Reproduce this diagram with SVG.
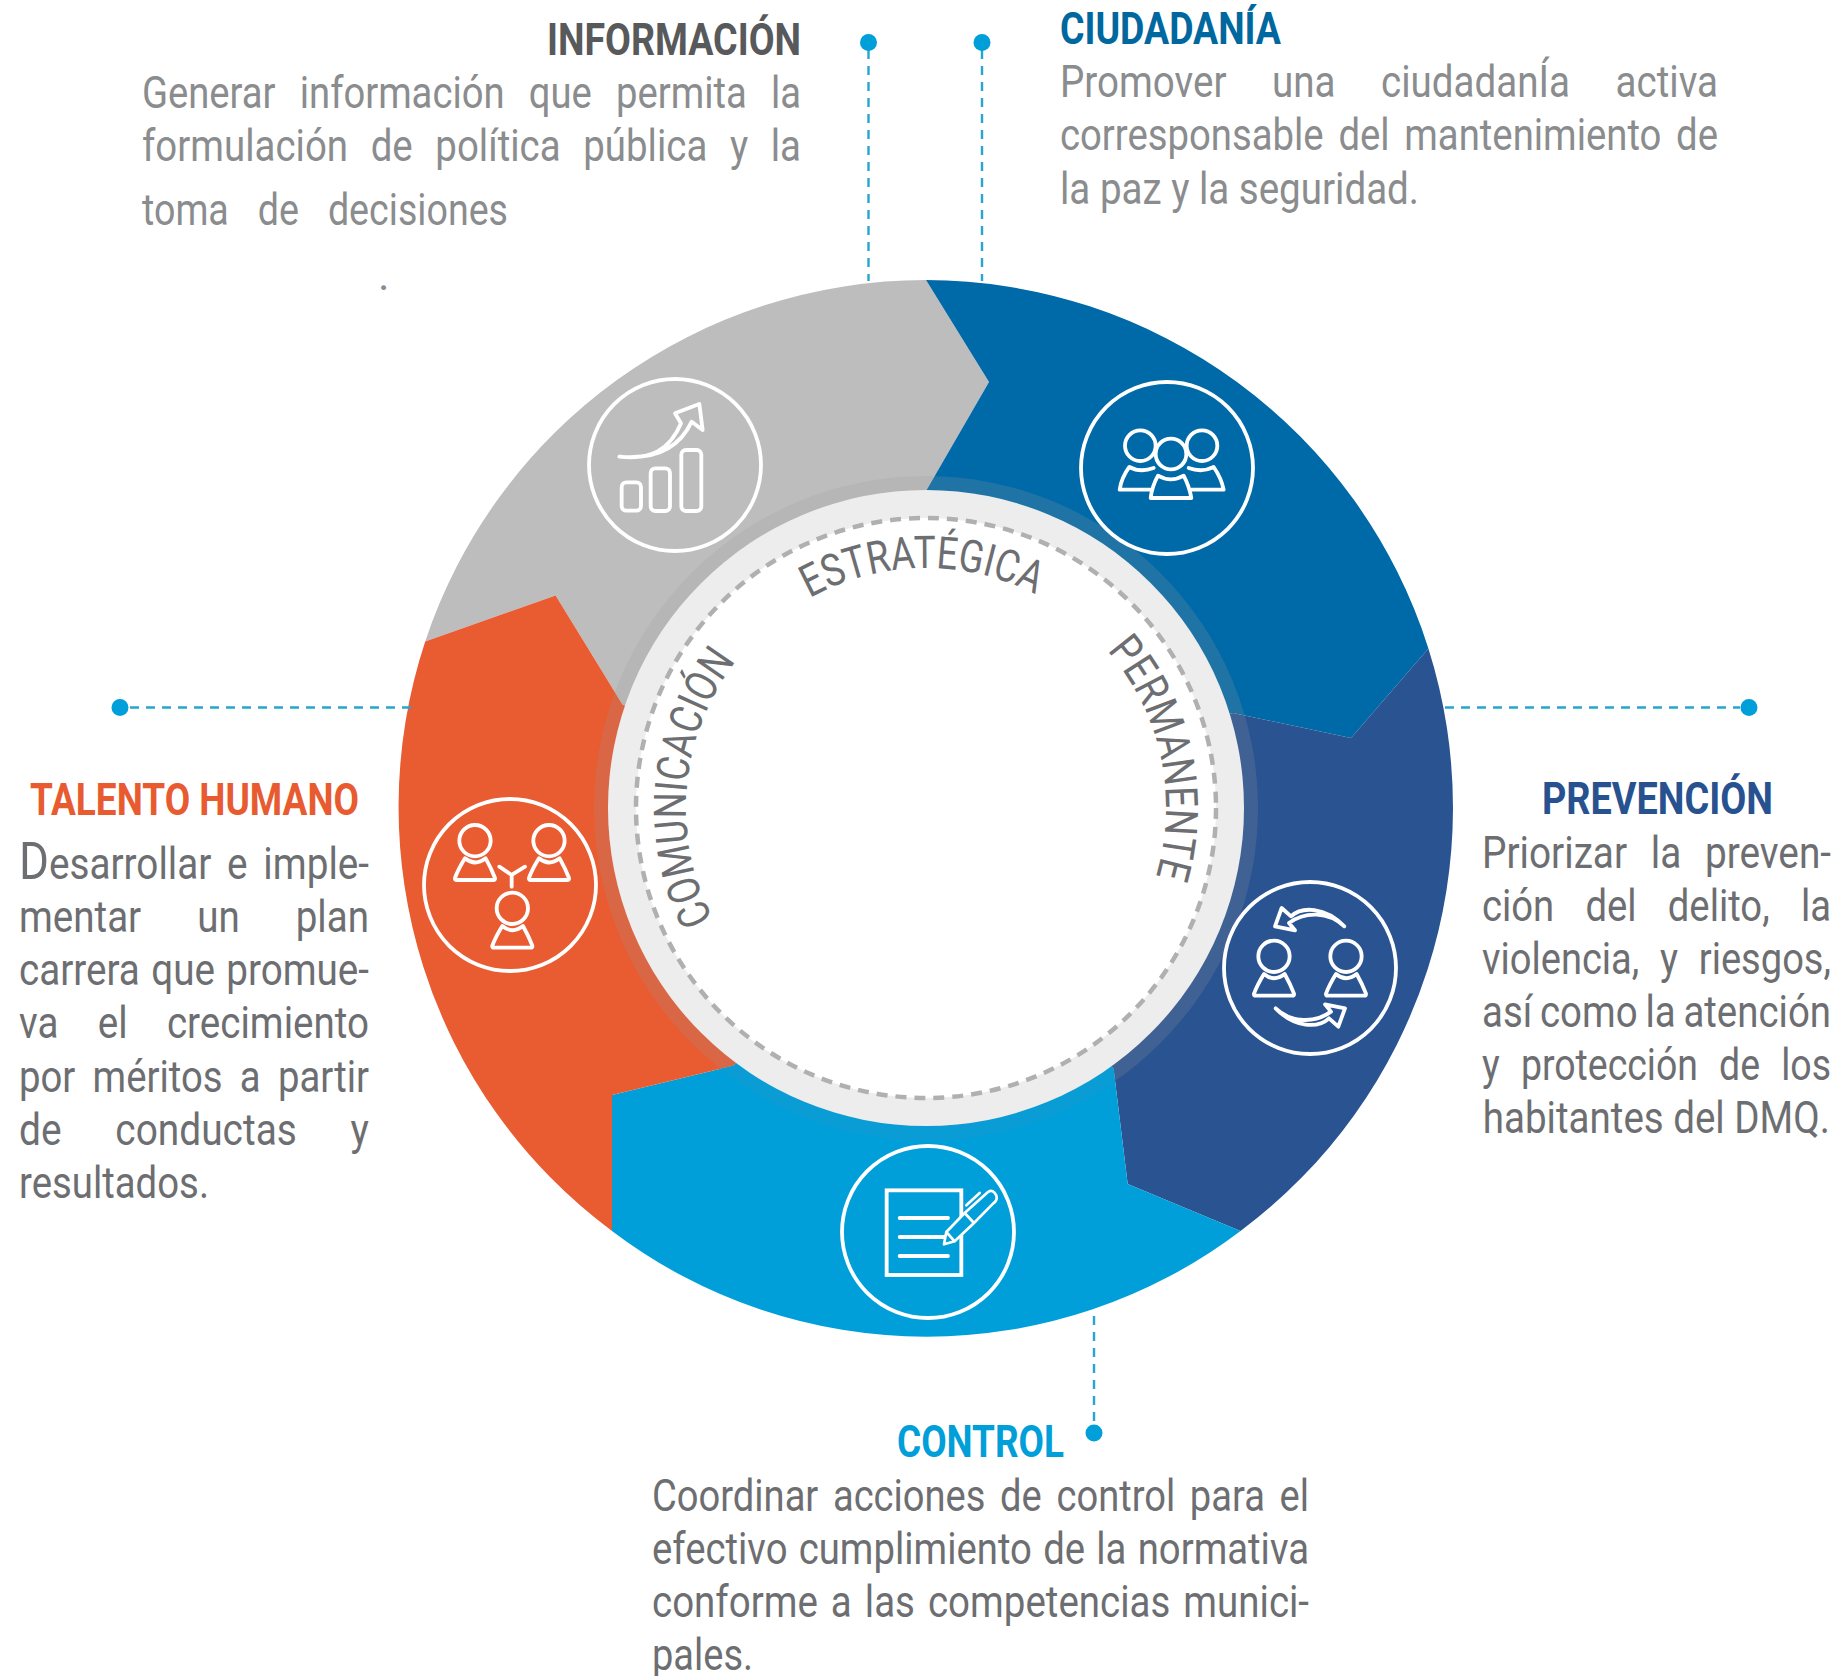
<svg xmlns="http://www.w3.org/2000/svg" width="1842" height="1676" viewBox="0 0 1842 1676">
<style>
text{font-family:"Roboto","Liberation Sans",sans-serif}
.h{font-size:44px;font-weight:700}
.b{font-size:44px;fill:#6d6e71}
.g{fill:#8a8c8e}
.arc{font-size:45px;fill:#6d6e71}
.ring{fill:none;stroke:#fff;stroke-width:3.8}
.ic{fill:none;stroke:#fff;stroke-width:11.5;stroke-linejoin:round;stroke-linecap:round}
.dash{fill:none;stroke:#25a5cf;stroke-width:2.4;stroke-dasharray:9 7}
.dot{fill:#009fd9}
</style>
<defs>
<path id="a1" d="M809.6 598.1A240 240 0 0 1 1035 594.2"/>
<path id="a2" d="M713.1 918.8A240 240 0 0 1 736.9 660.2"/>
<path id="a3" d="M1107.1 650.5A240 240 0 0 1 1156.7 874.1"/>
<g id="p"><circle r="47"/><path d="M-30 53Q-50 85-60 112Q-61 118-55 118H55Q61 118 60 112Q50 85 32 53Q0 78-30 53Z"/></g>
<path id="rot" d="M388 160C330 100 260 100 228 130L200 105L180 160L240 172L222 150C270 115 340 115 388 160Z"/>
<clipPath id="halo"><circle cx="926" cy="808" r="332"/></clipPath>
</defs>
<rect width="1842" height="1676" fill="#fff"/>
<g id="wheel">
<path fill="#bdbdbd" d="M425.2 641.4A528 528 0 0 1 926 280L989 382L926 491L926 808L622.6 704.8L555.6 595.6Z"/>
<path fill="#0069a8" d="M926 280A528 528 0 0 1 1428.4 648.4L1351 738L1233 713L926 808L926 491L989 382Z"/>
<path fill="#2a5391" d="M1428.4 648.4A528 528 0 0 1 1240.5 1231L1127.7 1184L1113.6 1069L926 808L1233 713L1351 738Z"/>
<path fill="#009fd9" d="M1240.5 1231A520 520 0 0 1 612 1231L612 1095L734 1065.5L926 808L1113.6 1069L1127.7 1184Z"/>
<path fill="#e95b30" d="M612 1231A528 528 0 0 1 425.2 641.4L555.6 595.6L622.6 704.8L926 808L734 1065.5L612 1095Z"/>
<circle cx="926" cy="808" r="332" fill="#999" opacity=".2"/>
<path fill="#0a9cd4" clip-path="url(#halo)" d="M612 1095L734 1065.5L926 808L1113.6 1069L1127.7 1184L926 1250Z"/>
<circle cx="926" cy="808" r="318" fill="#ededed"/>
<circle cx="926" cy="808" r="290" fill="#fff" stroke="#b0b0b0" stroke-width="4.5" stroke-dasharray="11 8"/>
<text class="arc"><textPath href="#a1" textLength="235" lengthAdjust="spacingAndGlyphs">ESTRATÉGICA</textPath></text>
<text class="arc"><textPath href="#a2" textLength="273" lengthAdjust="spacingAndGlyphs">COMUNICACIÓN</textPath></text>
<text class="arc"><textPath href="#a3" textLength="241" lengthAdjust="spacingAndGlyphs">PERMANENTE</textPath></text>
</g>
<g id="connectors">
<path class="dash" d="M868.5 50V281M982 50V281M130 707.500H412M1445 707.500H1740M1094 1316V1425"/>
</g>
<g id="dots">
<circle class="dot" cx="868.500" cy="42.500" r="8.500"/><circle class="dot" cx="982" cy="42.500" r="8.500"/><circle class="dot" cx="120" cy="707.500" r="8.500"/><circle class="dot" cx="1749" cy="707.500" r="8.500"/><circle class="dot" cx="1094" cy="1433" r="8.500"/>
</g>
<g id="informacion">
<circle class="ring" cx="675" cy="465" r="86"/>
<g class="ic" transform="translate(580 370) scale(.3333)">
<rect x="125" y="337" width="58" height="85" rx="14"/><rect x="212" y="295" width="58" height="128" rx="14"/><rect x="304" y="240" width="60" height="183" rx="14"/>
<path d="M118 260C210 272 270 240 303 160L285 130L358 102L368 180L335 155C300 230 230 270 118 260Z"/>
</g>
<text class="h" fill="#58595b" x="547" y="55" textLength="254" lengthAdjust="spacingAndGlyphs">INFORMACIÓN</text>
<text class="b g" x="142" y="108" textLength="659" lengthAdjust="spacingAndGlyphs" word-spacing="17">Generar información que permita la</text>
<text class="b g" x="142" y="161" textLength="659" lengthAdjust="spacingAndGlyphs" word-spacing="15">formulación de política pública y la</text>
<text class="b g" x="142" y="225" textLength="366" lengthAdjust="spacingAndGlyphs" word-spacing="23">toma de decisiones</text>
<text class="b g" x="378" y="290">.</text>
</g>
<g id="ciudadania">
<circle class="ring" cx="1167" cy="468" r="86"/>
<g class="ic" transform="translate(1072 373) scale(.3333)">
<circle cx="205" cy="218" r="46"/><circle cx="390" cy="218" r="46"/><circle cx="297" cy="243" r="46"/>
<path d="M258 308Q240 340 236 375H358Q352 340 335 308Q297 330 258 308Z"/>
<path d="M240 350H143Q148 315 172 282Q205 300 245 285M358 350H455Q448 315 425 282Q390 300 350 285"/>
</g>
<text class="h" fill="#00679f" x="1060" y="44" textLength="221" lengthAdjust="spacingAndGlyphs">CIUDADANÍA</text>
<text class="b g" x="1060" y="97" textLength="658" lengthAdjust="spacingAndGlyphs" word-spacing="41">Promover una ciudadanÍa activa</text>
<text class="b g" x="1060" y="150" textLength="658" lengthAdjust="spacingAndGlyphs" word-spacing="6">corresponsable del mantenimiento de</text>
<text class="b g" x="1060" y="204" textLength="359" lengthAdjust="spacingAndGlyphs" word-spacing="0">la paz y la seguridad.</text>
</g>
<g id="prevencion">
<circle class="ring" cx="1310" cy="968" r="86"/>
<g class="ic" transform="translate(1215 873) scale(.3333)">
<use href="#p" x="177" y="250"/><use href="#p" x="393" y="250"/>
<use href="#rot"/><use href="#rot" transform="rotate(180 285 283)"/>
</g>
<text class="h" fill="#28528f" x="1542" y="814" textLength="231" lengthAdjust="spacingAndGlyphs">PREVENCIÓN</text>
<g transform="translate(1482 0) scale(.85 1)">
<text class="b" x="0" y="868" textLength="410.600" lengthAdjust="spacingAndGlyphs" word-spacing="16">Priorizar la preven-</text>
<text class="b" x="0" y="921" textLength="410.600" lengthAdjust="spacingAndGlyphs" word-spacing="25">ción del delito, la</text>
<text class="b" x="0" y="974" textLength="410.600" lengthAdjust="spacingAndGlyphs" word-spacing="13">violencia, y riesgos,</text>
<text class="b" x="0" y="1027" textLength="410.600" lengthAdjust="spacingAndGlyphs" word-spacing="-2">así como la atención</text>
<text class="b" x="0" y="1080" textLength="410.600" lengthAdjust="spacingAndGlyphs" word-spacing="14">y protección de los</text>
<text class="b" x="1" y="1133.500" textLength="408.200" lengthAdjust="spacingAndGlyphs" word-spacing="0">habitantes del DMQ.</text>
</g>
</g>
<g id="control">
<circle class="ring" cx="928" cy="1232" r="86"/>
<g class="ic" transform="translate(833 1137) scale(.3333)">
<rect x="161" y="160" width="224" height="254" stroke-linejoin="miter"/>
<path d="M200 243H345M200 300H335M200 357H345"/>
<path fill="#009fd9" stroke-width="8" d="M333 322L340 285L395 228L465 165Q480 155 490 175Q495 190 480 200L423 258L365 313ZM395 228L423 258M340 285L365 313M400 205L440 168"/>
</g>
<text class="h" fill="#009fd9" x="897" y="1457" textLength="167" lengthAdjust="spacingAndGlyphs">CONTROL</text>
<text class="b" x="652" y="1511" textLength="657" lengthAdjust="spacingAndGlyphs" word-spacing="6">Coordinar acciones de control para el</text>
<text class="b" x="652" y="1564" textLength="657" lengthAdjust="spacingAndGlyphs" word-spacing="2">efectivo cumplimiento de la normativa</text>
<text class="b" x="652" y="1617" textLength="657" lengthAdjust="spacingAndGlyphs" word-spacing="4">conforme a las competencias munici-</text>
<text class="b" x="652" y="1670" textLength="101" lengthAdjust="spacingAndGlyphs">pales.</text>
</g>
<g id="talento">
<circle class="ring" cx="510" cy="885" r="86"/>
<g class="ic" transform="translate(415 790) scale(.3333)">
<use href="#p" x="180" y="152"/><use href="#p" x="402" y="152"/><use href="#p" x="292" y="355"/>
<path d="M253 230L290 255L330 230M290 255V290"/>
</g>
<text class="h" fill="#e85b30" x="30" y="815" textLength="329" lengthAdjust="spacingAndGlyphs">TALENTO HUMANO</text>
<text class="b" x="19" y="879" textLength="350" lengthAdjust="spacingAndGlyphs" word-spacing="7"><tspan font-size="52">D</tspan>esarrollar e imple-</text>
<text class="b" x="19" y="932" textLength="350" lengthAdjust="spacingAndGlyphs" word-spacing="53">mentar un plan</text>
<text class="b" x="19" y="985" textLength="350" lengthAdjust="spacingAndGlyphs" word-spacing="2">carrera que promue-</text>
<text class="b" x="19" y="1038" textLength="350" lengthAdjust="spacingAndGlyphs" word-spacing="34">va el crecimiento</text>
<text class="b" x="19" y="1092" textLength="350" lengthAdjust="spacingAndGlyphs" word-spacing="9">por méritos a partir</text>
<text class="b" x="19" y="1145" textLength="350" lengthAdjust="spacingAndGlyphs" word-spacing="50">de conductas y</text>
<text class="b" x="19" y="1198" textLength="190" lengthAdjust="spacingAndGlyphs">resultados.</text>
</g>
</svg>
